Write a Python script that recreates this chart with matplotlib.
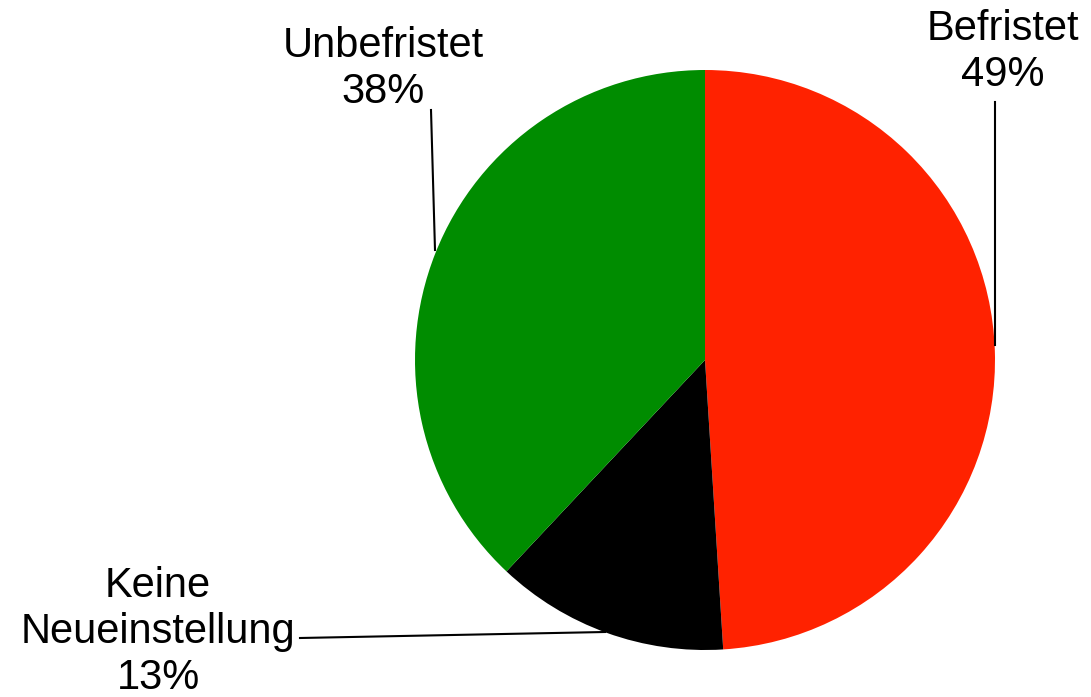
import matplotlib.pyplot as plt

# data
labels = ["Befristet", "Keine\nNeueinstellung", "Unbefristet"]
shares = [49, 13, 38]
colors = ["#ff2200", "#000000", "#008c00"]

plt.rcParams['font.family'] = ['Liberation Sans', 'DejaVu Sans']

fig = plt.figure(figsize=(10.91, 6.97), dpi=100)
ax = fig.add_axes([0, 0, 1, 1])

# pie in pixel-like coordinates (y up)
ax.pie(shares, colors=colors, startangle=90, counterclock=False,
       center=(705, 337), radius=290, wedgeprops=dict(linewidth=0))

# pie() resets the limits, so set them afterwards
ax.set_xlim(0, 1091)
ax.set_ylim(0, 697)
ax.set_aspect('equal')
ax.axis('off')

fs = 30
ls = 1.2

# Befristet label + leader
ax.plot([995, 995], [352, 595], color='black', lw=1.5)
ax.text(1003, 645, f"{labels[0]}\n{shares[0]}%", ha='center', va='center',
        fontsize=fs, linespacing=ls)

# Unbefristet label + leader
ax.plot([435, 431], [447, 587], color='black', lw=1.5)
ax.text(383, 628, f"{labels[2]}\n{shares[2]}%", ha='center', va='center',
        fontsize=fs, linespacing=ls)

# Keine Neueinstellung label + leader
ax.plot([605, 300], [65, 59], color='black', lw=1.5)
ax.text(158, 65, f"{labels[1]}\n{shares[1]}%", ha='center', va='center',
        fontsize=fs, linespacing=ls)

fig.savefig("out.png", dpi=100, facecolor='white')
